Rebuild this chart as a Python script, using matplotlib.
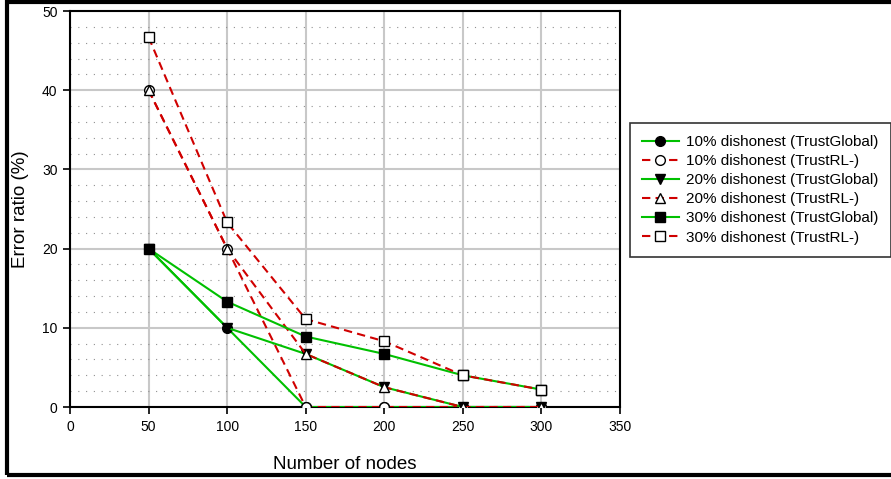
import matplotlib
matplotlib.use("Agg")
import matplotlib.pyplot as plt
from matplotlib.patches import Rectangle
from matplotlib.ticker import MultipleLocator

plt.rcParams['font.family'] = ['Liberation Sans', 'DejaVu Sans']

# data
nodes = [50, 100, 150, 200, 250, 300]
g10 = [20, 10, 0, 0, 0, 0]
rl10 = [40, 20, 0, 0, 0, 0]
g20 = [20, 10, 6.7, 2.5, 0, 0]
rl20 = [40, 20, 6.7, 2.5, 0, 0]
g30 = [20, 13.3, 8.9, 6.7, 4.0, 2.2]
rl30 = [46.7, 23.3, 11.1, 8.3, 4.0, 2.2]

labels = [
    "10% dishonest (TrustGlobal)",
    "10% dishonest (TrustRL-)",
    "20% dishonest (TrustGlobal)",
    "20% dishonest (TrustRL-)",
    "30% dishonest (TrustGlobal)",
    "30% dishonest (TrustRL-)",
]

green = "#00c000"
red = "#d00000"

fig = plt.figure(figsize=(8.91, 4.79), dpi=100)
ax = fig.add_axes([0.0786, 0.1503, 0.6172, 0.8267])

series = [
    (g10, "o", True), (rl10, "o", False),
    (g20, "v", True), (rl20, "^", False),
    (g30, "s", True), (rl30, "s", False),
]
for (vals, mk, glob), lab in zip(series, labels):
    if glob:
        ax.plot(nodes, vals, color=green, lw=1.5, marker=mk, ms=7,
                mfc="black", mec="black", label=lab, zorder=3)
    else:
        ax.plot(nodes, vals, color=red, lw=1.5, ls=(0, (4, 2.5)),
                marker=mk, ms=7, mfc="white", mec="black", mew=1.0,
                label=lab, zorder=3)

ax.set_xlim(0, 350)
ax.set_ylim(0, 50)
ax.xaxis.set_major_locator(MultipleLocator(50))
ax.yaxis.set_major_locator(MultipleLocator(10))
ax.yaxis.set_minor_locator(MultipleLocator(2))

ax.grid(which="major", color="#c8c8c8", lw=1.5, zorder=0)
ax.grid(which="minor", axis="y", color="#909090", lw=0.8,
        ls=(0, (1, 6)), zorder=0)
ax.tick_params(which="minor", length=0)
ax.tick_params(which="major", direction="out", length=5, width=1.2,
               labelsize=10, pad=4)
for s in ax.spines.values():
    s.set_linewidth(1.5)
    s.set_color("black")

ax.set_xlabel("Number of nodes", fontsize=13.5, labelpad=16)
ax.set_ylabel("Error ratio (%)", fontsize=13.5)
ax.yaxis.set_label_coords(-0.075, 0.5)

leg = fig.legend(loc="upper left", bbox_to_anchor=(0.707, 0.743),
                 fontsize=11, frameon=True, fancybox=False,
                 edgecolor="black", handlelength=2.4, borderpad=0.8,
                 labelspacing=0.33, handletextpad=0.5, borderaxespad=0)
leg.get_frame().set_linewidth(1.2)

# outer frame around the whole picture
fig.patches.append(Rectangle((0.0084, 0.0084), 1.2, 0.9876, transform=fig.transFigure,
                             fill=False, edgecolor="black", lw=3))

fig.savefig("out.png", dpi=100)
